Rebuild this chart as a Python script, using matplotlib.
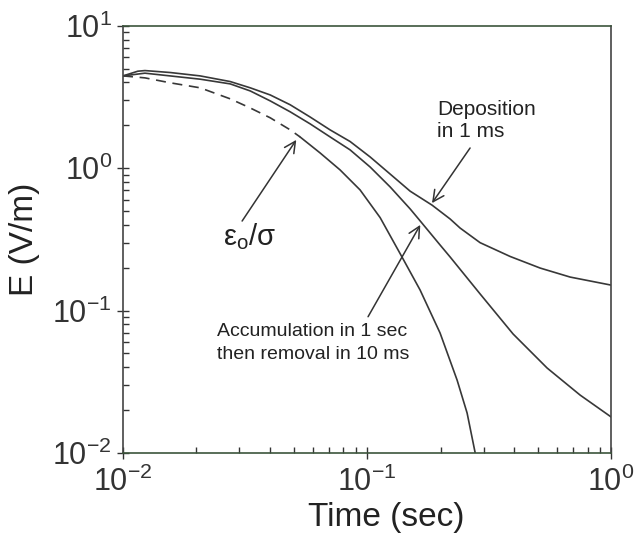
import matplotlib
matplotlib.use("Agg")
from matplotlib import pyplot as plt
from matplotlib.ticker import LogLocator, NullFormatter

plt.rcParams['font.family'] = ['Liberation Sans', 'DejaVu Sans']
plt.rcParams['mathtext.fontset'] = 'custom'
plt.rcParams['mathtext.rm'] = 'Liberation Sans'
plt.rcParams['mathtext.default'] = 'regular'

# Deposition in 1 ms
t_dep = [0.01, 0.0115, 0.0123, 0.0156, 0.0207, 0.0275, 0.0332, 0.0401, 0.0484,
         0.0584, 0.0705, 0.0852, 0.1029, 0.1243, 0.1501, 0.1847, 0.2189, 0.2405,
         0.2904, 0.3856, 0.5117, 0.6792, 1.0]
E_dep = [4.45, 4.8, 4.85, 4.70, 4.45, 4.06, 3.67, 3.27, 2.79,
         2.29, 1.86, 1.54, 1.20, 0.91, 0.69, 0.55, 0.44, 0.38,
         0.30, 0.24, 0.199, 0.172, 0.151]

# Accumulation in 1 sec then removal in 10 ms
t_acc = [0.01, 0.0123, 0.0207, 0.0275, 0.0332, 0.0401, 0.0484, 0.0584, 0.0705,
         0.0852, 0.1029, 0.1243, 0.1501, 0.1649, 0.1991, 0.2189, 0.2904, 0.3965,
         0.5467, 0.7464, 1.0]
E_acc = [4.45, 4.65, 4.22, 3.91, 3.49, 2.97, 2.49, 2.05, 1.66,
         1.345, 1.02, 0.739, 0.518, 0.427, 0.289, 0.238, 0.131, 0.0685,
         0.0395, 0.0255, 0.0179]

# eps0/sigma (dashed part, then solid)
t_eps = [0.01, 0.0123, 0.0156, 0.0207, 0.0275, 0.0332, 0.0401, 0.0484, 0.0531,
         0.0642, 0.0775, 0.0936, 0.1131, 0.139, 0.1649, 0.1991, 0.2338, 0.2569,
         0.277]
E_eps = [4.45, 4.31, 3.98, 3.67, 3.07, 2.65, 2.26, 1.86, 1.66,
         1.28, 0.973, 0.704, 0.45, 0.238, 0.1395, 0.0696, 0.0325, 0.0191,
         0.0101]
n_dash = 9  # first points drawn dashed

line_col = '#383838'

fig = plt.figure(figsize=(6.44, 5.38), dpi=100)
ax = fig.add_axes([0.191, 0.158, 0.758, 0.794])

ax.plot(t_dep, E_dep, color=line_col, lw=1.2)
ax.plot(t_acc, E_acc, color=line_col, lw=1.2)
ax.plot(t_eps[:n_dash], E_eps[:n_dash], color=line_col, lw=1.2, dashes=(6, 4))
ax.plot(t_eps[n_dash - 1:], E_eps[n_dash - 1:], color=line_col, lw=1.2)

ax.set_xscale('log')
ax.set_yscale('log')
ax.set_xlim(1e-2, 1e0)
ax.set_ylim(1e-2, 1e1)
ax.xaxis.set_minor_locator(LogLocator(base=10, subs=range(2, 10)))
ax.yaxis.set_minor_locator(LogLocator(base=10, subs=range(2, 10)))
ax.xaxis.set_minor_formatter(NullFormatter())
ax.yaxis.set_minor_formatter(NullFormatter())

ax.tick_params(which='major', direction='inout', length=8, width=1, labelsize=22,
               colors='#333333', top=False, right=False)
ax.tick_params(which='minor', direction='in', length=4, width=1, colors='#333333',
               top=False, right=False)
ax.tick_params(axis='x', which='major', pad=6)
ax.tick_params(axis='y', which='major', pad=4)

for side in ['left', 'right']:
    ax.spines[side].set_color('#444444')
for side in ['top', 'bottom']:
    ax.spines[side].set_color('#3c553c')
for s in ax.spines.values():
    s.set_linewidth(1.2)

ax.set_xlabel('Time (sec)', fontsize=24, color='#222222')
ax.set_ylabel('E (V/m)', fontsize=24, color='#222222')
ax.xaxis.set_label_coords(0.539, -0.115)
ax.yaxis.set_label_coords(-0.17, 0.5)

arrow = dict(arrowstyle='->', color='#333333', lw=1.1, mutation_scale=20,
             shrinkA=0, shrinkB=0)

ax.text(0.643, 0.827, 'Deposition\nin 1 ms', transform=ax.transAxes,
        fontsize=15, va='top', ha='left', linespacing=1.25, color='#222222')
ax.annotate('', xy=(0.633, 0.585), xytext=(0.711, 0.714),
            xycoords='axes fraction', textcoords='axes fraction', arrowprops=arrow)

ax.text(0.26, 0.506, 'ε$_{o}$/σ', transform=ax.transAxes,
        fontsize=21, va='center', ha='center', color='#222222')
ax.annotate('', xy=(0.355, 0.733), xytext=(0.244, 0.543),
            xycoords='axes fraction', textcoords='axes fraction', arrowprops=arrow)

ax.text(0.193, 0.304, 'Accumulation in 1 sec\nthen removal in 10 ms',
        transform=ax.transAxes, fontsize=14, va='top', ha='left',
        linespacing=1.45, color='#222222')
ax.annotate('', xy=(0.609, 0.534), xytext=(0.502, 0.319),
            xycoords='axes fraction', textcoords='axes fraction', arrowprops=arrow)

plt.savefig('out.png', dpi=100)
plt.close()
